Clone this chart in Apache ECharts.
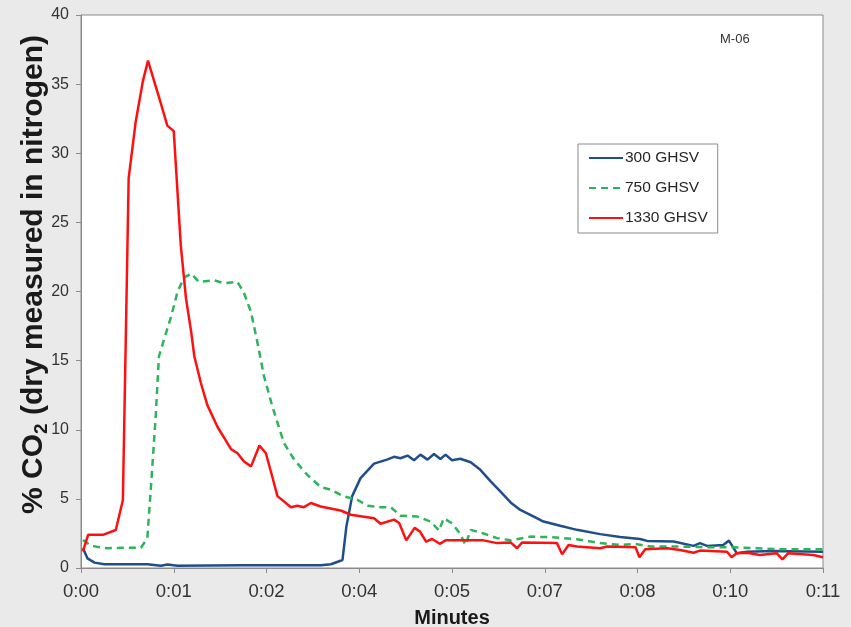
<!DOCTYPE html>
<html>
<head>
<meta charset="utf-8">
<script src="https://cdn.jsdelivr.net/npm/echarts@6/dist/echarts.min.js"></script>
<style>
  html, body { margin: 0; padding: 0; background: #eaeaea; }
  #chart { width: 851px; height: 627px; }
</style>
</head>
<body>
<div id="chart"></div>
<script>
// x in minutes; the axis ticks every 1.44 min (Excel h:mm labels)
const tickLabels = ['0:00', '0:01', '0:02', '0:04', '0:05', '0:07', '0:08', '0:10', '0:11'];
const seriesNames = ['300 GHSV', '750 GHSV', '1330 GHSV'];

// 300 GHSV
const blueTime = [0.03, 0.10, 0.21, 0.36, 1.03, 1.24, 1.34, 1.50, 2.5, 3.72, 3.88, 4.06, 4.12, 4.21, 4.34, 4.55, 4.75, 4.86, 4.96, 5.07, 5.17, 5.27, 5.38, 5.48, 5.58, 5.66, 5.76, 5.89, 6.05, 6.20, 6.36, 6.51, 6.67, 6.82, 7.03, 7.18, 7.44, 7.70, 8.06, 8.37, 8.68, 8.79, 9.20, 9.51, 9.61, 9.72, 9.97, 10.06, 10.18, 10.34, 10.75, 11.52];
const blueValues = [1.43, 0.7, 0.39, 0.27, 0.27, 0.17, 0.25, 0.17, 0.2, 0.2, 0.27, 0.58, 3.0, 5.2, 6.5, 7.55, 7.84, 8.04, 7.94, 8.13, 7.79, 8.2, 7.84, 8.25, 7.89, 8.2, 7.79, 7.9, 7.65, 7.1, 6.27, 5.54, 4.74, 4.2, 3.72, 3.36, 3.05, 2.76, 2.45, 2.25, 2.1, 1.96, 1.91, 1.6, 1.8, 1.6, 1.67, 1.98, 1.07, 1.18, 1.23, 1.18];

// 750 GHSV
const greenTime = [0.03, 0.16, 0.41, 0.67, 0.93, 1.03, 1.09, 1.16, 1.21, 1.29, 1.40, 1.50, 1.60, 1.71, 1.83, 2.07, 2.22, 2.43, 2.53, 2.64, 2.74, 2.84, 2.97, 3.15, 3.31, 3.51, 3.72, 3.88, 4.08, 4.29, 4.45, 4.65, 4.81, 4.96, 5.22, 5.43, 5.56, 5.63, 5.76, 5.88, 5.97, 6.05, 6.25, 6.46, 6.67, 6.98, 7.29, 7.70, 8.06, 8.37, 8.61, 8.84, 9.30, 9.82, 10.13, 10.49, 10.85, 11.52];
const greenValues = [2.03, 1.6, 1.43, 1.47, 1.47, 2.15, 6.15, 11.0, 15.3, 16.55, 18.2, 20.0, 21.0, 21.3, 20.7, 20.8, 20.6, 20.7, 19.9, 18.5, 16.3, 13.9, 11.7, 9.05, 7.84, 6.75, 5.86, 5.66, 5.18, 4.94, 4.5, 4.4, 4.4, 3.78, 3.72, 3.36, 2.7, 3.6, 3.24, 2.52, 1.67, 2.76, 2.5, 2.16, 2.0, 2.27, 2.23, 2.08, 1.8, 1.67, 1.74, 1.55, 1.55, 1.5, 1.5, 1.43, 1.36, 1.36];

// 1330 GHSV
const redTime = [0.03, 0.11, 0.34, 0.54, 0.65, 0.74, 0.85, 0.96, 1.04, 1.24, 1.34, 1.44, 1.55, 1.63, 1.71, 1.76, 1.86, 1.96, 2.12, 2.33, 2.43, 2.53, 2.64, 2.77, 2.87, 2.97, 3.05, 3.26, 3.36, 3.46, 3.57, 3.72, 4.03, 4.19, 4.55, 4.65, 4.86, 4.94, 5.05, 5.18, 5.26, 5.36, 5.45, 5.57, 5.66, 5.89, 6.25, 6.46, 6.67, 6.77, 6.85, 7.39, 7.47, 7.57, 7.70, 8.06, 8.17, 8.61, 8.67, 8.76, 9.10, 9.30, 9.51, 9.61, 10.03, 10.10, 10.18, 10.34, 10.54, 10.80, 10.89, 10.98, 11.37, 11.52];
const redValues = [1.2, 2.4, 2.4, 2.75, 4.9, 28.2, 32.3, 35.2, 36.7, 33.6, 32.0, 31.6, 23.3, 19.5, 17.1, 15.3, 13.4, 11.8, 10.2, 8.6, 8.3, 7.7, 7.35, 8.86, 8.3, 6.6, 5.2, 4.4, 4.5, 4.4, 4.7, 4.45, 4.16, 3.85, 3.6, 3.2, 3.5, 3.25, 2.0, 2.9, 2.65, 1.9, 2.1, 1.75, 2.0, 2.0, 2.0, 1.8, 1.85, 1.43, 1.85, 1.8, 1.0, 1.67, 1.55, 1.43, 1.55, 1.5, 0.78, 1.36, 1.43, 1.3, 1.1, 1.26, 1.18, 0.78, 1.07, 1.11, 0.94, 1.07, 0.63, 1.07, 0.94, 0.78];

const pairs = (xs, ys) => xs.map((x, i) => [x, ys[i]]);
const FONT = 'Liberation Sans, Arial, sans-serif';

const chart = echarts.init(document.getElementById('chart'));
chart.setOption({
  backgroundColor: '#eaeaea',
  animation: false,
  textStyle: { fontFamily: FONT },
  grid: {
    left: 81, top: 15, right: 28, bottom: 59,
    outerBoundsMode: 'none',
    show: true, backgroundColor: '#ffffff', borderColor: '#8a8a8a', borderWidth: 1
  },
  legend: {
    orient: 'vertical',
    left: 578, top: 144,
    padding: [6, 10, 7, 10],
    itemWidth: 34, itemHeight: 14, itemGap: 14,
    backgroundColor: '#ffffff',
    borderColor: '#8a8a8a', borderWidth: 1,
    itemStyle: { opacity: 0 },
    textStyle: { fontSize: 15.5, fontFamily: FONT, color: '#262626', padding: [0, 0, 0, -3] },
    data: seriesNames
  },
  xAxis: {
    type: 'value',
    min: 0, max: 11.52, interval: 1.44,
    name: 'Minutes',
    nameLocation: 'middle', nameGap: 40, nameMoveOverlap: false,
    nameTextStyle: { fontSize: 20, fontWeight: 'bold', fontFamily: FONT, color: '#1a1a1a' },
    axisLine: { lineStyle: { color: '#8a8a8a' } },
    axisTick: { length: 5, lineStyle: { color: '#8a8a8a' } },
    axisLabel: {
      fontSize: 18.5, fontFamily: FONT, color: '#333', margin: 14,
      formatter: v => tickLabels[Math.round(v / 1.44)]
    },
    splitLine: { show: false }
  },
  yAxis: {
    type: 'value',
    min: 0, max: 40, interval: 5,
    name: '% CO{sub|2} (dry measured in nitrogen)',
    nameLocation: 'middle', nameGap: 30, nameMoveOverlap: false,
    nameTextStyle: {
      fontSize: 30, fontWeight: 'bold', fontFamily: FONT, color: '#1a1a1a',
      padding: [0, 0, 0, 34],
      rich: { sub: { fontSize: 19, fontWeight: 'bold', fontFamily: FONT, color: '#1a1a1a', padding: [16, 0, 0, 0] } }
    },
    axisLine: { show: true, lineStyle: { color: '#8a8a8a' } },
    axisTick: { show: true, length: 5, lineStyle: { color: '#8a8a8a' } },
    axisLabel: { fontSize: 16, fontFamily: FONT, color: '#333', margin: 12 },
    splitLine: { show: false }
  },
  graphic: [{
    type: 'text', left: 720, top: 33,
    style: { text: 'M-06', fontSize: 13, fill: '#333', fontFamily: FONT }
  }],
  series: [
    {
      name: seriesNames[0], type: 'line', symbol: 'none', data: pairs(blueTime, blueValues),
      lineStyle: { color: '#1f4e8a', width: 2.5 }, itemStyle: { color: '#1f4e8a' }
    },
    {
      name: seriesNames[1], type: 'line', symbol: 'none', data: pairs(greenTime, greenValues),
      lineStyle: { color: '#2bb55a', width: 2.5, type: [7, 5] }, itemStyle: { color: '#2bb55a' }
    },
    {
      name: seriesNames[2], type: 'line', symbol: 'none', data: pairs(redTime, redValues),
      lineStyle: { color: '#ff1010', width: 2.5 }, itemStyle: { color: '#ff1010' }
    }
  ]
});
</script>
</body>
</html>
